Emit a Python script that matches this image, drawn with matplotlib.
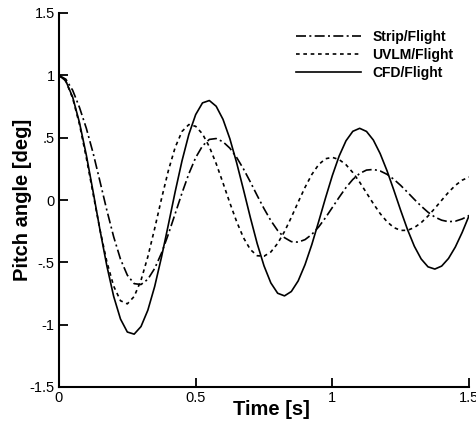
import matplotlib
matplotlib.use('Agg')
import matplotlib.pyplot as plt
import numpy as np

plt.rcParams['font.family'] = ['Liberation Sans', 'DejaVu Sans']

# time axis, 0.025 s steps
time = np.arange(61) * 0.025

strip = [1.000, 0.969, 0.880, 0.742, 0.575, 0.375, 0.148, -0.082, -0.295, -0.475, -0.603, -0.671,
         -0.678, -0.636, -0.549, -0.426, -0.275, -0.110, 0.056, 0.210, 0.340, 0.434, 0.486,
         0.493, 0.467, 0.416, 0.341, 0.249, 0.145, 0.036, -0.069, -0.165, -0.245, -0.302, -0.334,
         -0.338, -0.318, -0.276, -0.216, -0.142, -0.060, 0.022, 0.100, 0.165, 0.213, 0.240,
         0.245, 0.233, 0.206, 0.166, 0.117, 0.062, 0.005, -0.049, -0.098, -0.137, -0.162, -0.174,
         -0.170, -0.152, -0.125]

uvlm = [1.000, 0.953, 0.817, 0.606, 0.338, 0.047, -0.240, -0.495, -0.691, -0.808,
        -0.833, -0.774, -0.644, -0.455, -0.229, 0.010, 0.235, 0.422, 0.550, 0.605,
        0.591, 0.530, 0.427, 0.292, 0.137, -0.023, -0.174, -0.303, -0.397, -0.447,
        -0.451, -0.417, -0.348, -0.253, -0.139, -0.017, 0.101, 0.205, 0.284, 0.331,
        0.342, 0.324, 0.283, 0.220, 0.143, 0.057, -0.029, -0.109, -0.174, -0.221, -0.244,
        -0.243, -0.221, -0.182, -0.129, -0.067, -0.002, 0.062, 0.117, 0.159, 0.184]

cfd = [1.000, 0.955, 0.825, 0.620, 0.360, 0.064, -0.241, -0.528, -0.773, -0.955, -1.059,
       -1.076, -1.015, -0.884, -0.694, -0.458, -0.199, 0.066, 0.314, 0.526, 0.685, 0.779,
       0.798, 0.752, 0.647, 0.492, 0.298, 0.082, -0.140, -0.349, -0.528, -0.665, -0.748,
       -0.769, -0.734, -0.649, -0.519, -0.357, -0.173, 0.016, 0.196, 0.353, 0.475, 0.551,
       0.575, 0.550, 0.481, 0.372, 0.235, 0.079, -0.083, -0.237, -0.371, -0.473, -0.536,
       -0.554, -0.530, -0.469, -0.377, -0.260, -0.127]

x_ticks = [0, 0.5, 1, 1.5]
x_tick_labels = ['0', '0.5', '1', '1.5']
y_ticks = [-1.5, -1, -0.5, 0, 0.5, 1, 1.5]
y_tick_labels = ['-1.5', '-1', '-.5', '0', '.5', '1', '1.5']

fig = plt.figure(figsize=(4.77, 4.25), dpi=100)
ax = fig.add_axes([59 / 477, 1 - 387 / 425, 410 / 477, 374 / 425])

ax.plot(time, strip, color='black', linewidth=1.2, dashes=(6, 2, 1.2, 2), label='Strip/Flight')
ax.plot(time, uvlm, color='black', linewidth=1.2, dashes=(2.2, 2.2), label='UVLM/Flight')
ax.plot(time, cfd, color='black', linewidth=1.2, label='CFD/Flight')

ax.set_xlim(0, 1.5)
ax.set_ylim(-1.5, 1.5)
ax.set_xticks(x_ticks)
ax.set_xticklabels(x_tick_labels)
ax.set_yticks(y_ticks)
ax.set_yticklabels(y_tick_labels)

for side in ['top', 'right']:
    ax.spines[side].set_visible(False)
for side in ['left', 'bottom']:
    ax.spines[side].set_linewidth(1.5)

ax.tick_params(direction='in', length=6.5, width=1.3, labelsize=10.5, pad=3, colors='black')

ax.set_xlabel('Time [s]', fontsize=14.5, fontweight='bold')
ax.set_ylabel('Pitch angle [deg]', fontsize=14.5, fontweight='bold')
ax.xaxis.set_label_coords(0.518, -0.036)
ax.yaxis.set_label_coords(-0.066, 0.5)

ax.legend(loc='upper left', bbox_to_anchor=(296 / 477, 1 - 30 / 425), bbox_transform=fig.transFigure,
          frameon=False, borderpad=0, borderaxespad=0, handlelength=4.7, handletextpad=0.8,
          labelspacing=0.27, prop={'size': 10, 'weight': 'bold'})

plt.savefig('out.png', dpi=100)
